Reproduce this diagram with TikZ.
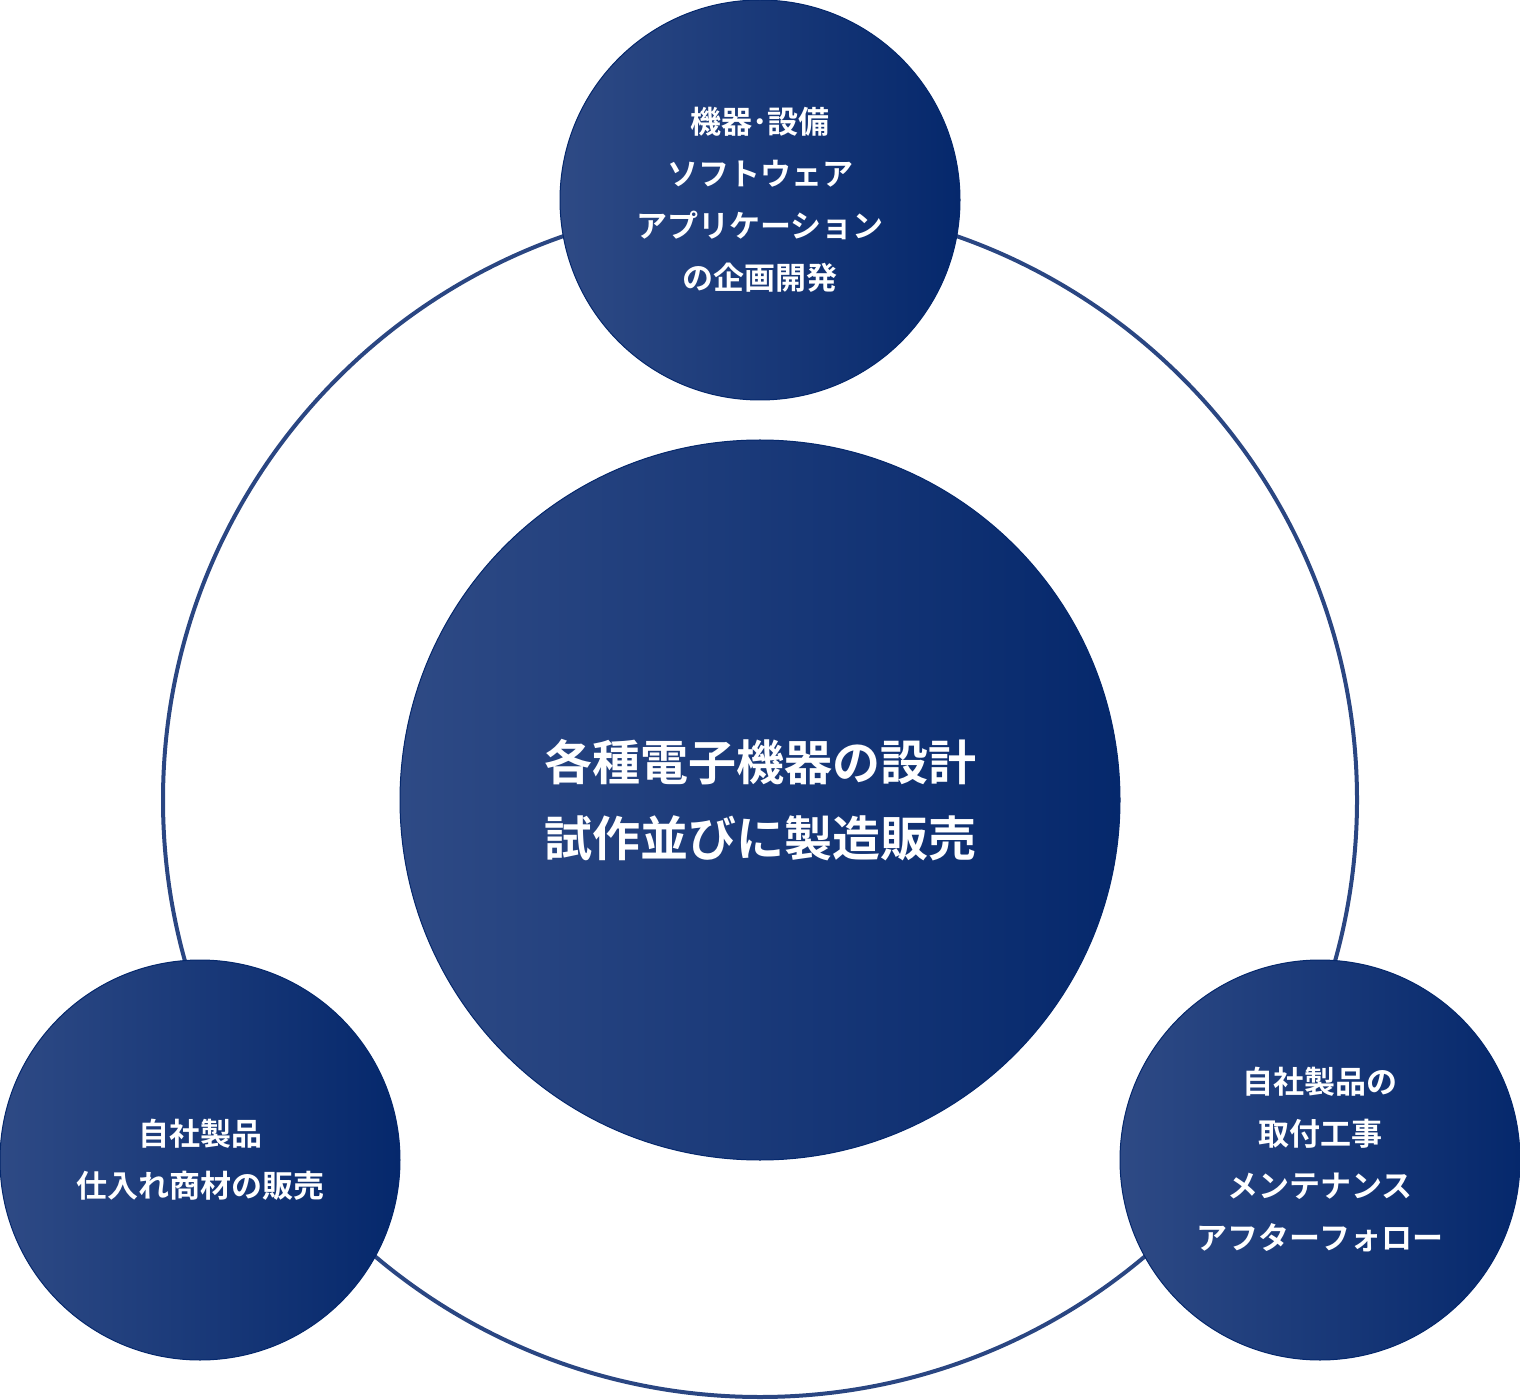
\documentclass[tikz,border=0pt]{standalone}
\usepackage{fontspec}
\newfontfamily\cjk{Noto Sans CJK JP Bold}
\begin{document}
\begin{tikzpicture}[x=0.5pt,y=-0.5pt]
\definecolor{lt}{HTML}{2E4A85}
\definecolor{dk}{HTML}{05286C}
\definecolor{ring}{HTML}{2A4682}
\tikzset{ball/.style={circle,inner sep=0pt,left color=lt,right color=dk,draw=dk,line width=0.5pt,text=white,align=center,font=\cjk},
small/.style={ball,minimum size=200pt,font=\cjk\fontsize{15.5}{26}\selectfont}}
\useasboundingbox (0,0) rectangle (1520,1400);
\node[circle,draw=ring,line width=2pt,minimum size=597pt,inner sep=0pt] (ringc) at (760,800) {};
\node[ball,minimum size=360pt,font=\cjk\fontsize{24}{38}\selectfont] (c) at (760,800) {各種電子機器の設計\\試作並びに製造販売};
\node[small] (t) at (760,200) {機器･設備\\ソフトウェア\\アプリケーション\\の企画開発};
\node[small] (l) at (200,1160) {自社製品\\仕入れ商材の販売};
\node[small] (r) at (1320,1160) {自社製品の\\取付工事\\メンテナンス\\アフターフォロー};
\end{tikzpicture}
\end{document}
